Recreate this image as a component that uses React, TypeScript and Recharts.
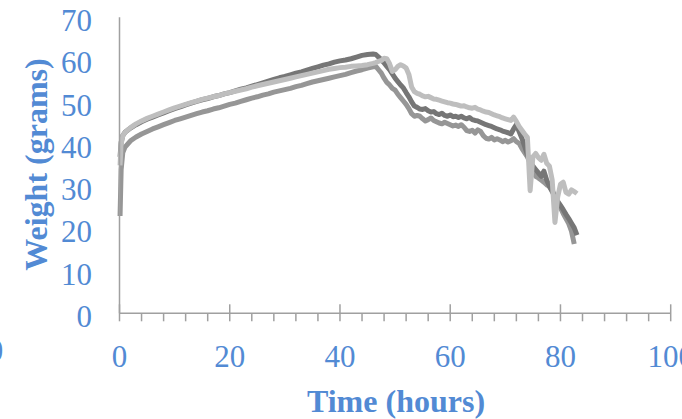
import React from 'react';
import { LineChart, Line, XAxis, YAxis, Customized } from 'recharts';

const hours = [
  0.1, 0.3, 0.6, 1, 2, 3, 4, 5, 6, 7, 8, 9, 10, 11, 12, 13, 14, 15, 16, 17, 18, 19, 20,
  21, 22, 23, 24, 25, 26, 27, 28, 29, 30, 31, 32, 33, 34, 35, 36, 37, 38, 39, 40, 41, 42,
  43, 44, 45, 46, 46.5, 47, 47.5, 48, 48.5, 49, 49.5, 50, 50.5, 51, 51.5, 52, 52.5, 53,
  53.5, 54, 54.5, 55, 55.5, 56, 56.5, 57, 57.5, 58, 58.5, 59, 59.5, 60, 60.5, 61, 61.5,
  62, 62.5, 63, 63.5, 64, 64.5, 65, 65.5, 66, 66.5, 67, 67.5, 68, 68.5, 69, 69.5, 70,
  70.5, 71, 71.5, 72, 72.5, 73, 73.5, 74, 74.5, 75, 75.5, 76, 76.5, 77, 77.5, 78, 78.5,
  79, 79.5, 80, 80.5, 81, 81.5, 82, 82.5, 83,
];

const darkWeight = [
  37, 40.5, 42, 42.8, 43.8, 44.6, 45.3, 45.9, 46.4, 46.9, 47.4, 47.9, 48.4, 48.8, 49.3,
  49.7, 50.1, 50.5, 50.8, 51.2, 51.5, 51.9, 52.2, 52.6, 53, 53.3, 53.7, 54.1, 54.5, 54.9,
  55.3, 55.7, 56, 56.4, 56.8, 57.1, 57.5, 57.9, 58.3, 58.7, 59, 59.4, 59.7, 59.9, 60.2,
  60.6, 61, 61.2, 61.3, 61.2, 60.6, 60, 59.2, 58.4, 57.6, 56.6, 55.6, 54.8, 54, 53.3,
  52.2, 51.2, 50, 49, 48.7, 48.3, 48.2, 48.4, 47.9, 47.6, 47.7, 47.2, 47, 47.3, 46.8,
  46.6, 46.9, 46.5, 46.6, 46.3, 46.6, 46.2, 46, 46.3, 45.8, 45.6, 45.5, 45.2, 44.9, 44.6,
  44.4, 44.2, 43.9, 43.6, 43.4, 43.1, 42.9, 42.7, 42.4, 43.6, 44.6, 43, 41.4, 39.5, 37.5,
  36, 34.8, 34, 33.2, 32.4, 33.6, 31.5, 30, 28.8, 27.6, 26.5, 25.5, 24.5, 23.4, 22.4,
  21.3, 20.2, 18.5,
];

const mediumWeight = [
  23, 34, 38, 39.3, 40.8, 41.7, 42.4, 43, 43.6, 44.1, 44.6, 45.1, 45.6, 46, 46.4, 46.8,
  47.2, 47.6, 47.9, 48.3, 48.6, 49, 49.4, 49.7, 50.1, 50.5, 50.9, 51.2, 51.6, 51.9, 52.3,
  52.6, 52.9, 53.2, 53.6, 53.9, 54.3, 54.7, 55, 55.3, 55.6, 55.9, 56.2, 56.5, 56.9, 57.3,
  57.6, 58, 58.3, 58.4, 57.6, 56.8, 55.6, 54.6, 54, 53.2, 52.8, 51.8, 51, 50.2, 49.4,
  48.4, 47.2, 46.6, 46.8, 46.6, 46, 45.5, 45.8, 46.2, 45.6, 45.3, 45, 44.8, 45.2, 44.9,
  44.6, 44.3, 44.5, 44.2, 44.6, 44, 43.2, 43, 43.3, 42.6, 43.4, 43, 42, 41.4, 41.2, 41.6,
  41, 41.3, 41, 40.6, 40.9, 40.5, 40.8, 41.3, 40.6, 40.2, 39, 38, 37, 35.6, 33.8, 32.4,
  32, 31.5, 31, 30.4, 30, 29.2, 27.5, 26, 25, 23.6, 22.4, 21.2, 19.4, 16.4, null,
];

const lightWeight = [
  35, 40, 42, 42.8, 43.9, 44.8, 45.5, 46.1, 46.6, 47.1, 47.6, 48.1, 48.6, 49, 49.4, 49.8,
  50.2, 50.6, 50.9, 51.2, 51.5, 51.9, 52.2, 52.5, 52.8, 53.1, 53.5, 53.8, 54.1, 54.4,
  54.7, 55, 55.3, 55.6, 55.9, 56.2, 56.5, 56.8, 57.1, 57.4, 57.7, 57.9, 58.1, 58.2, 58.4,
  58.5, 58.6, 58.8, 59.1, 59.3, 59.6, 59.8, 60.3, 60.2, 59, 57.2, 57.6, 58.4, 58.8, 58.5,
  58, 56.5, 53.5, 52.4, 52, 51.8, 51.4, 51.2, 51.3, 51, 50.7, 50.6, 50.4, 50.2, 50, 49.8,
  49.7, 49.5, 49.4, 49.2, 49, 49.1, 48.8, 48.6, 48.5, 48.7, 48.3, 48.1, 47.8, 47.6, 47.5,
  47.2, 46.9, 46.7, 46.5, 46.2, 46, 45.8, 45.6, 46.4, 45.4, 44.2, 43.3, 42.4, 41.6, 29,
  37, 37.8, 36.8, 36.2, 37.6, 35.5, 34.8, 31.5, 21.5, 27.5, 30.5, 31, 28.6, 28.2, 29.2,
  28.8, 28.3,
];

const xTicks = [0, 4, 8, 12, 16, 20, 24, 28, 32, 36, 40, 44, 48, 52, 56, 60, 64, 68, 72, 76, 80, 84, 88, 92, 96, 100];
const xLabelTicks = [0, 20, 40, 60, 80, 100];
const yTicks = [0, 10, 20, 30, 40, 50, 60, 70];

const data = hours.map((h, i) => ({
  hours: h,
  dark: darkWeight[i],
  medium: mediumWeight[i],
  light: lightWeight[i],
}));

const BLUE = '#528AD4';
const AXIS = '#A0A0A0';
const FONT = '"Liberation Serif", "Times New Roman", serif';

const XTick = (props: any) => {
  const { x, y, payload } = props;
  const major = xLabelTicks.includes(payload.value);
  return (
    <g>
      <line x1={x} x2={x} y1={major ? y - 9 : y} y2={y + 8} stroke={AXIS} strokeWidth={1.5} />
      {major && (
        <text x={x} y={y + 53.5} textAnchor="middle" fill={BLUE} fontSize={31} fontFamily={FONT}>
          {payload.value}
        </text>
      )}
    </g>
  );
};

const YTick = (props: any) => {
  const { x, y, payload } = props;
  return (
    <text x={x - 27.5} y={y + 13.7} textAnchor="end" fill={BLUE} fontSize={31} fontFamily={FONT}>
      {payload.value}
    </text>
  );
};

const Titles = () => (
  <g>
    <text x={396} y={411.7} textAnchor="middle" fill={BLUE} fontSize={32} fontWeight="bold" fontFamily={FONT}>
      Time (hours)
    </text>
    <text
      transform="translate(47,164.5) rotate(-90)"
      textAnchor="middle"
      fill={BLUE}
      fontSize={32}
      fontWeight="bold"
      fontFamily={FONT}
    >
      Weight (grams)
    </text>
    <text x={-4.5} y={360.5} textAnchor="middle" fill={BLUE} fontSize={31} fontFamily={FONT}>
      0
    </text>
  </g>
);

export default function App() {
  return (
    <div style={{ position: 'absolute', left: 0, top: 0, background: '#fff' }}>
      <LineChart
        width={682}
        height={419}
        data={data}
        margin={{ top: 17.3, right: 11.3, bottom: 0, left: 0 }}
      >
        <XAxis
          dataKey="hours"
          type="number"
          domain={[0, 100]}
          ticks={xTicks}
          interval={0}
          tickSize={0}
          tickMargin={0}
          tickLine={false}
          tick={<XTick />}
          axisLine={{ stroke: AXIS, strokeWidth: 1.5 }}
          height={105.7}
        />
        <YAxis
          type="number"
          domain={[0, 70]}
          ticks={yTicks}
          interval={0}
          tickSize={0}
          tickMargin={0}
          tickLine={false}
          tick={<YTick />}
          axisLine={{ stroke: AXIS, strokeWidth: 1.5 }}
          width={119.5}
        />
        <Line dataKey="medium" stroke="#969696" strokeWidth={5} dot={false} isAnimationActive={false} strokeLinejoin="round" />
        <Line dataKey="dark" stroke="#767676" strokeWidth={5} dot={false} isAnimationActive={false} strokeLinejoin="round" />
        <Line dataKey="light" stroke="#BEBEBE" strokeWidth={5} dot={false} isAnimationActive={false} strokeLinejoin="round" />
        <Customized component={<Titles />} />
      </LineChart>
    </div>
  );
}
